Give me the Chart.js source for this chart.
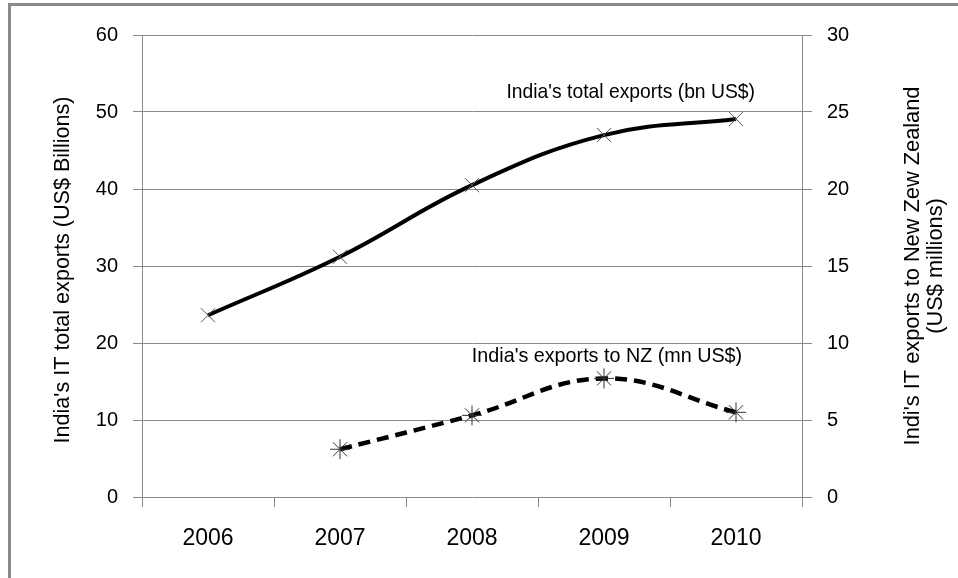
<!DOCTYPE html>
<html>
<head>
<meta charset="utf-8">
<script src="https://cdn.jsdelivr.net/npm/chart.js@4"></script>
<style>
  html, body { margin: 0; padding: 0; background: #fff; }
  #wrap { position: relative; width: 958px; height: 578px; overflow: hidden; }
  #frame { position: absolute; left: 8px; top: 3px; width: 1200px; height: 900px;
           border-left: 3px solid #8a8a8a; border-top: 3px solid #8a8a8a; }
  #chart { position: absolute; left: 0; top: 0; }
</style>
</head>
<body>
<div id="wrap">
  <div id="frame"></div>
  <canvas id="chart" width="958" height="578"></canvas>
</div>
<script>
const YEARS = ['2006', '2007', '2008', '2009', '2010'];
const TOTAL_EXPORTS = [23.6, 31.2, 40.5, 47.0, 49.1]; // bn US$, left axis
const NZ_EXPORTS = [null, 3.1, 5.3, 7.7, 5.5];        // mn US$, right axis
const LEFT_TITLE = "India's IT total exports (US$ Billions)";
const RIGHT_TITLE = ["Indi's IT exports to New Zew Zealand", "(US$ millions)"];
const TOTAL_LABEL = "India's total exports (bn US$)";
const NZ_LABEL = "India's exports to NZ (mn US$)";

const SANS = '"Liberation Sans", Arial, sans-serif';
const GRID = '#888888';

const data = {
  labels: YEARS,
  datasets: [{
    label: TOTAL_LABEL,
    data: TOTAL_EXPORTS,
    yAxisID: 'y',
    borderColor: '#000',
    borderWidth: 4,
    tension: 0.4,
    pointStyle: 'crossRot',
    pointRadius: 10,
    pointBorderColor: '#555',
    pointBorderWidth: 1,
    fill: false
  }, {
    label: NZ_LABEL,
    data: NZ_EXPORTS,
    yAxisID: 'y1',
    borderColor: '#000',
    borderWidth: 4.5,
    borderDash: [12, 7],
    tension: 0.4,
    pointStyle: 'star',
    pointRadius: 10,
    pointBorderColor: '#333',
    pointBorderWidth: 1,
    fill: false
  }]
}

// squeezed text, a stand-in for Arial Narrow
function narrowText(ctx, text, x, y, rot, sx) {
  ctx.save()
  ctx.translate(x, y)
  if (rot) ctx.rotate(rot)
  ctx.scale(sx, 1)
  ctx.fillText(text, 0, 0)
  ctx.restore()
}

// texts that chart.js can't place the way the picture has them
const textPlugin = {
  id: 'texts',
  afterDraw: (chart) => {
    const {ctx, chartArea} = chart
    const midY = (chartArea.top + chartArea.bottom) / 2
    ctx.save()
    ctx.fillStyle = '#000'
    ctx.textAlign = 'center'
    ctx.textBaseline = 'middle'

    // axis titles, both read bottom to top
    ctx.font = '22px ' + SANS
    narrowText(ctx, LEFT_TITLE, chartArea.left - 79, midY + 4, -Math.PI / 2, 0.98)
    narrowText(ctx, RIGHT_TITLE[0], chartArea.right + 111, midY, -Math.PI / 2, 0.99)
    narrowText(ctx, RIGHT_TITLE[1], chartArea.right + 134, midY, -Math.PI / 2, 0.99)

    // series labels next to the points
    ctx.font = '21px ' + SANS
    ctx.textBaseline = 'bottom'
    const p0 = chart.getDatasetMeta(0).data[4]
    ctx.textAlign = 'right'
    narrowText(ctx, TOTAL_LABEL, p0.x + 19, p0.y - 16, 0, 0.92)
    const p1 = chart.getDatasetMeta(1).data[3]
    ctx.textAlign = 'center'
    narrowText(ctx, NZ_LABEL, p1.x + 3, p1.y - 12, 0, 0.94)
    ctx.restore()
  }
}

const options = {
  responsive: false,
  animation: false,
  layout: { padding: { top: 35, left: 0, right: 0, bottom: 0 } },
  plugins: {
    legend: { display: false },
    tooltip: { enabled: false }
  },
  scales: {
    x: {
      offset: true,
      grid: { offset: true, drawOnChartArea: false, color: GRID, tickLength: 10 },
      border: { display: false },
      ticks: { color: '#000', font: { size: 23, family: SANS }, padding: 18 },
      afterFit: (s) => { s.height = 81 }
    },
    y: {
      position: 'left',
      min: 0, max: 60,
      ticks: { stepSize: 10, color: '#000', font: { size: 20, family: SANS }, padding: 15 },
      grid: { color: GRID, tickLength: 9 },
      border: { color: GRID },
      afterFit: (s) => { s.width = 142 }
    },
    y1: {
      position: 'right',
      min: 0, max: 30,
      ticks: { stepSize: 5, color: '#000', font: { size: 20, family: SANS }, padding: 15 },
      grid: { drawOnChartArea: false, color: GRID, tickLength: 10 },
      border: { color: GRID },
      afterFit: (s) => { s.width = 156 }
    }
  }
}

const config = {
  type: 'line',
  data,
  options,
  plugins: [textPlugin],
}

const $chart = document.getElementById('chart')
const chart = new Chart($chart, config)
</script>
</body>
</html>
